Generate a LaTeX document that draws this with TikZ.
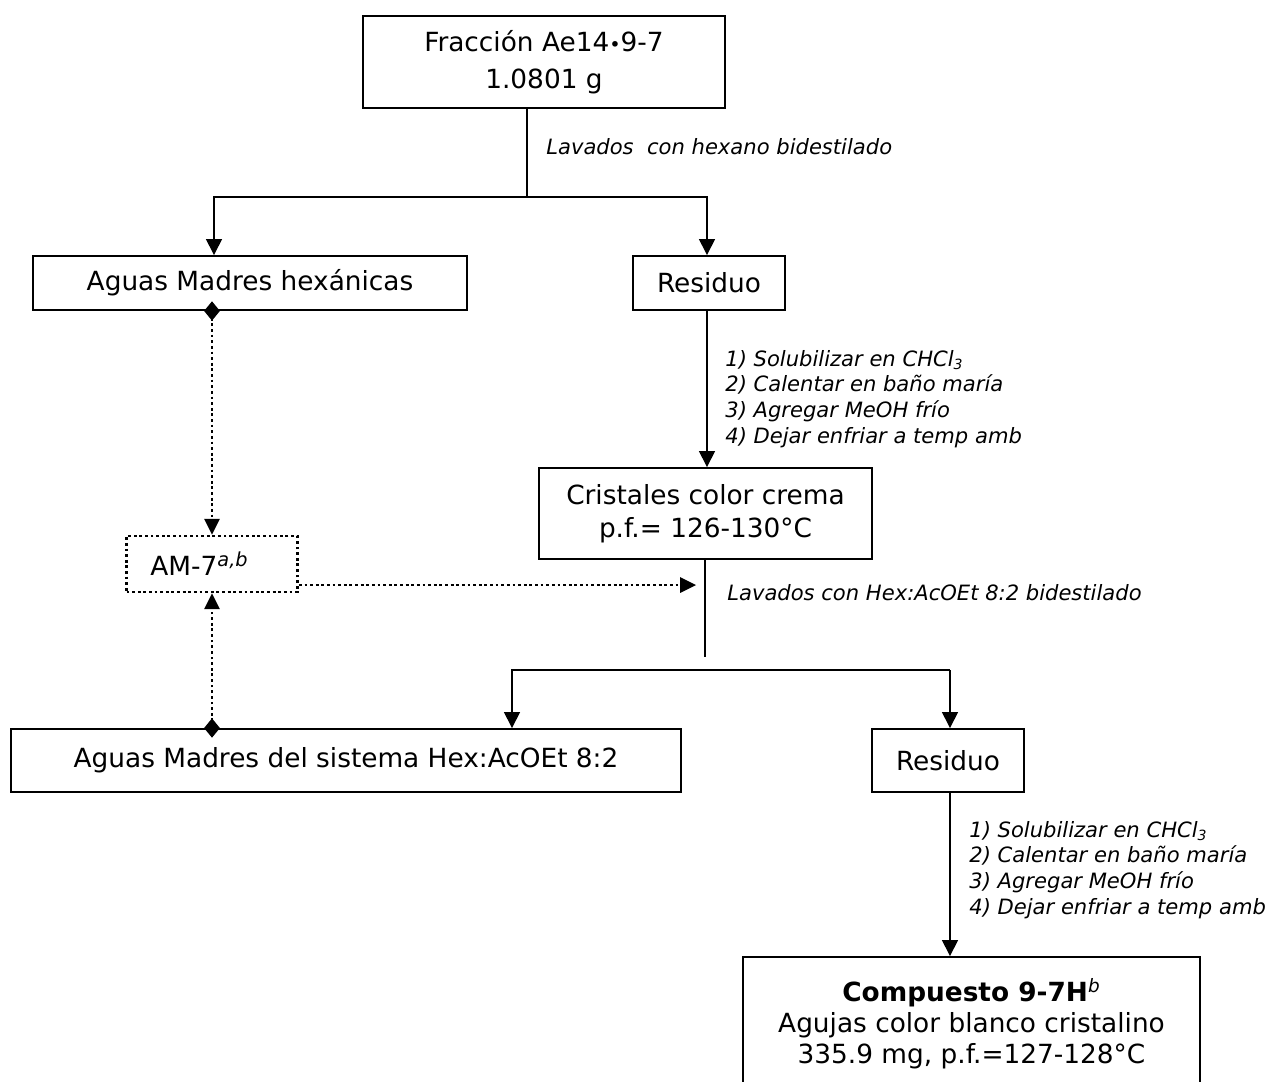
\documentclass[tikz,border=0pt]{standalone}
\usepackage{fontspec}
\setmainfont{DejaVu Sans}
\usetikzlibrary{arrows.meta,positioning,calc}

\tikzset{
  caja/.style={draw,line width=1.1pt,align=center,inner sep=0pt,font=\fontsize{15}{19}\selectfont},
  cajapunt/.style={caja,line width=1.6pt,dash pattern=on 1.6pt off 1.6pt},
  paso/.style={align=left,anchor=west,inner sep=0pt,font=\fontsize{12}{14.6}\selectfont\itshape},
  linea/.style={line width=0.85pt},
  flecha/.style={linea,-{Triangle[length=9pt,width=9pt]}},
  punteada/.style={line width=1.6pt,dash pattern=on 1.6pt off 1.6pt,-{Triangle[length=9pt,width=9pt,line width=0pt]}},
  rombo/.style={punteada,{Diamond[length=11pt,width=9pt,line width=0pt]}-{Triangle[length=9pt,width=9pt,line width=0pt]},shorten <=-5.5pt}
}

\begin{document}
\begin{tikzpicture}[x=0.02cm,y=-0.02cm]
  \useasboundingbox (0,0) rectangle (1276,1082);
  \clip (0,0) rectangle (1276,1082);

  % cajas
  \node[caja,minimum width=7.24cm,minimum height=1.84cm,font=\fontsize{15}{21}\selectfont] (frac) at (544,62) {Fracción Ae14{\fontsize{11}{11}\selectfont•}9-7\\1.0801 g};
  \node[caja,minimum width=8.68cm,minimum height=1.08cm] (amhex) at (250,283) {Aguas Madres hexánicas};
  \node[caja,minimum width=3.04cm,minimum height=1.08cm] (res1) at (709,283) {Residuo};
  \node[caja,minimum width=6.66cm,minimum height=1.82cm] (crist) at (705.5,513.5) {Cristales color crema\\p.f.= 126-130°C};
  \node[cajapunt,minimum width=3.42cm,minimum height=1.12cm] (am7) at (212,564) {AM-7\textsuperscript{\itshape\fontsize{11}{11}\selectfont a,b}\hspace{0.5cm}};
  \node[caja,minimum width=13.4cm,minimum height=1.26cm] (amsis) at (346,760.5) {Aguas Madres del sistema Hex:AcOEt 8:2};
  \node[caja,minimum width=3.04cm,minimum height=1.26cm] (res2) at (948,760.5) {Residuo};
  \node[caja,minimum width=9.14cm,minimum height=2.66cm,font=\fontsize{15}{17.5}\selectfont] (comp) at (971.5,1023.5) {\textbf{Compuesto 9-7H}\textsuperscript{\itshape b}\\Agujas color blanco cristalino\\335.9 mg, p.f.=127-128°C};

  % textos de los pasos
  \node[paso] (lav1) at (546,147) {Lavados\ \ con hexano bidestilado};
  \node[paso] (pasos1) at (725,399) {1) Solubilizar en CHCl\textsubscript{3}\\2) Calentar en baño maría\\3) Agregar MeOH frío\\4) Dejar enfriar a temp amb};
  \node[paso] (lav2) at (727,593) {Lavados con Hex:AcOEt 8:2 bidestilado};
  \node[paso] (pasos2) at (969,870) {1) Solubilizar en CHCl\textsubscript{3}\\2) Calentar en baño maría\\3) Agregar MeOH frío\\4) Dejar enfriar a temp amb};

  % primera division
  \coordinate (s1) at (527,197);
  \coordinate (s1i) at (214,197);
  \coordinate (s1d) at (707,197);
  \draw[linea] (frac.south -| s1) -- (s1);
  \draw[flecha] (s1) -- (s1i) -- (s1i |- amhex.north);
  \draw[flecha] (s1) -- (s1d) -- (s1d |- res1.north);
  \draw[flecha] (res1.south -| s1d) -- (s1d |- crist.north);

  % segunda division
  \coordinate (s2) at (705,657);
  \coordinate (s2i) at (512,670);
  \coordinate (s2d) at (950,670);
  \draw[linea] (crist.south -| s2) -- (s2);
  \draw[flecha] (s2d) -- (s2i) -- (s2i |- amsis.north);
  \draw[flecha] (s2d) -- (s2d |- res2.north);
  \draw[flecha] (res2.south -| s2d) -- (s2d |- comp.north);

  % aguas madres reunidas
  \coordinate (dt) at (696,585);
  \draw[rombo] (am7.north |- amhex.south) -- (am7.north);
  \draw[rombo] (am7.south |- amsis.north) -- (am7.south);
  \draw[punteada] (dt -| am7.east) -- (dt);
\end{tikzpicture}
\end{document}
